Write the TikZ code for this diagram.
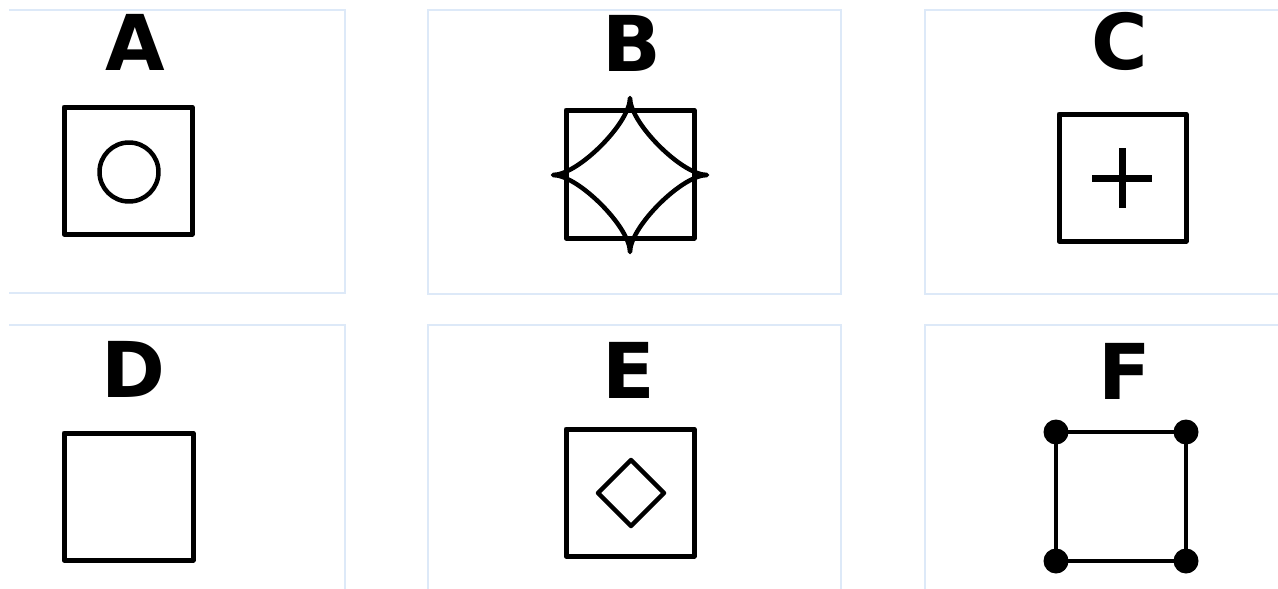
\documentclass[tikz,border=0pt]{standalone}
\usepackage{fontspec}
\setmainfont{DejaVu Sans}
\definecolor{panelc}{HTML}{DDE9F8}
\begin{document}
\begin{tikzpicture}[x=1pt,y=-1pt,
  panelline/.style={draw=panelc, line width=1.5pt},
  fig/.style={draw=black, line width=5pt, line join=round},
  thin fig/.style={draw=black, line width=4.5pt, line join=round},
  lbl/.style={font=\fontsize{77}{77}\selectfont\bfseries, inner sep=0pt, anchor=base},
  corner/.style={circle, fill=black, minimum size=25pt, inner sep=0pt}]
\useasboundingbox (0,0) rectangle (1278,589);
\fill[white] (0,0) rectangle (1278,589);
% panels
\draw[panelline] (9,10) -- (345,10) -- (345,293) -- (9,293);
\draw[panelline] (428,10) rectangle (841,294);
\draw[panelline] (1278,10) -- (925,10) -- (925,294) -- (1278,294);
\draw[panelline] (9,325) -- (345,325) -- (345,589);
\draw[panelline] (428,589) -- (428,325) -- (841,325) -- (841,589);
\draw[panelline] (1278,325) -- (925,325) -- (925,589);
% labels
\node[lbl] (lA) at (135,70) {A};
\node[lbl] (lB) at (632,71) {B};
\node[lbl] (lC) at (1120,69) {C};
\node[lbl] (lD) at (133,397) {D};
\node[lbl] (lE) at (629,398) {E};
\node[lbl] (lF) at (1125,399) {F};
% A
\draw[fig] (64,107) rectangle (192,234);
\draw[thin fig] (129,172) circle[radius=29.5];
% B
\draw[fig] (566,110) rectangle (694,238);
\draw[thin fig] (630,98) .. controls (630,123) and (682,175) .. (707,175)
  .. controls (682,175) and (630,227) .. (630,252)
  .. controls (630,227) and (578,175) .. (553,175)
  .. controls (578,175) and (630,123) .. (630,98) -- cycle;
% C
\draw[fig] (1059,114) rectangle (1186,241);
\draw[black, line width=7pt] (1092,178) -- (1152,178) (1122,148) -- (1122,208);
% D
\draw[fig] (64,433) rectangle (193,560);
% E
\draw[fig] (566,429) rectangle (694,556);
\draw[thin fig] (631,460) -- (664,493) -- (631,526) -- (598,493) -- cycle;
% F
\node[corner] (f1) at (1056,432) {};
\node[corner] (f2) at (1186,432) {};
\node[corner] (f3) at (1186,561) {};
\node[corner] (f4) at (1056,561) {};
\draw[thin fig] (f1.center) -- (f2.center) -- (f3.center) -- (f4.center) -- cycle;
\end{tikzpicture}
\end{document}
